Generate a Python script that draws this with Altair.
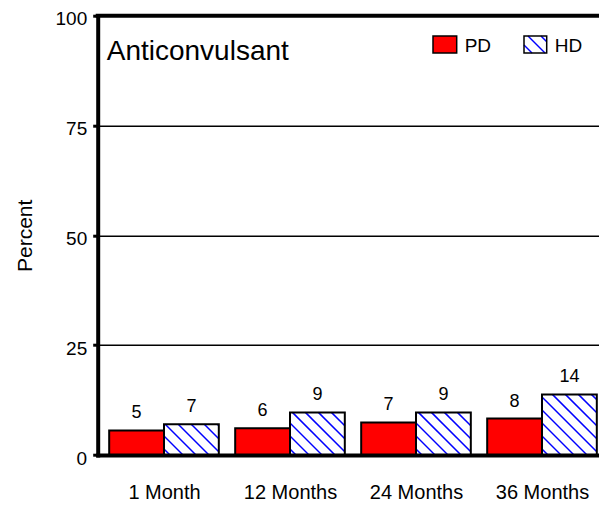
import altair as alt
import pandas as pd

# ---- data ----
months = ["1 Month", "12 Months", "24 Months", "36 Months"]
series = ["PD", "HD"]
pd_values = [5.6, 6.1, 7.4, 8.3]
hd_values = [7.0, 9.7, 9.7, 13.8]
pd_labels = ["5", "6", "7", "8"]
hd_labels = ["7", "9", "9", "14"]
y_ticks = [0, 25, 50, 75, 100]
panel_title = "Anticonvulsant"
y_title = "Percent"

# ---- layout ----
PAD_L, PAD_T = 89.7, 7.7
SVG_W, SVG_H = 591, 496
W = SVG_W - PAD_L
H = 439.3
PAD_B = SVG_H - PAD_T - H
SX = 126.0
XMIN = -66.3 / SX
XMAX = XMIN + W / SX
SY = H / 100.0
HALF = 0.435
FONT = "Liberation Sans"
RED = "#FF0000"
BLUE = "#0000FF"

rows = []
for i, m in enumerate(months):
    rows.append(dict(month=m, series="PD", value=pd_values[i], label=pd_labels[i],
                     x0=i - HALF, x1=i, xc=i - HALF / 2))
    rows.append(dict(month=m, series="HD", value=hd_values[i], label=hd_labels[i],
                     x0=i, x1=i + HALF, xc=i + HALF / 2))
df = pd.DataFrame(rows)


def hatch_segments(bw, hh, step=13.0, phase=6.0):
    segs = []
    d = phase
    while d < bw + hh:
        u1 = max(0.0, d - hh)
        u2 = min(bw, d)
        if u2 > u1:
            segs.append((u1, d - u1, u2, d - u2))
        d += step
    return segs


hrows = []
for _, r in df[df.series == "HD"].iterrows():
    bw = (r.x1 - r.x0) * SX
    hh = r.value * SY
    for (u1, w1, u2, w2) in hatch_segments(bw, hh):
        hrows.append(dict(hx=r.x0 + u1 / SX, hy=w1 / SY, hx2=r.x0 + u2 / SX, hy2=w2 / SY))
hdf = pd.DataFrame(hrows)

x_scale = alt.Scale(domain=[XMIN, XMAX], nice=False, zero=False)
y_scale = alt.Scale(domain=[0, 100], nice=False)

label_expr = "[" + ",".join("'%s'" % m for m in months) + "][round(datum.value)]"
x_axis = alt.Axis(values=[0, 1, 2, 3], labelExpr=label_expr, title=None, ticks=False, tickSize=0,
                  domain=True, domainWidth=4, domainColor="black", domainCap="square", grid=False,
                  labelPadding=43.5, labelBaseline="alphabetic", labelFontSize=20,
                  labelFlush=False, labelColor="black", zindex=1)
y_axis = alt.Axis(values=y_ticks, title=y_title, grid=True, gridColor="black", gridWidth=1.5,
                  gridOpacity=1, domain=True, domainWidth=4, domainColor="black",
                  domainCap="square",
                  tickSize=5, tickWidth=3, tickColor="black", labelPadding=6, labelOffset=3,
                  labelFlush=False,
                  labelFontSize=19, labelColor="black", titleFontSize=21, titleFontWeight="normal",
                  titleColor="black", titleX=-66, titleY=H / 2, titleAngle=270,
                  titleAlign="center", titleBaseline="alphabetic", zindex=1)

base = alt.Chart(df)

pd_bars = base.transform_filter(alt.datum.series == "PD").mark_rect(
    fill=RED, stroke="black", strokeWidth=2
).encode(
    x=alt.X("x0:Q", scale=x_scale, axis=x_axis),
    x2="x1:Q",
    y=alt.Y("value:Q", scale=y_scale, axis=y_axis),
    y2=alt.datum(0),
)

hd_fill = base.transform_filter(alt.datum.series == "HD").mark_rect(
    fill="white", strokeWidth=0
).encode(x="x0:Q", x2="x1:Q", y="value:Q", y2=alt.datum(0))

hatch = alt.Chart(hdf).mark_rule(color=BLUE, strokeWidth=1.5).encode(
    x="hx:Q", x2="hx2:Q", y="hy:Q", y2="hy2:Q"
)

hd_outline = base.transform_filter(alt.datum.series == "HD").mark_rect(
    fill=None, fillOpacity=0, stroke="black", strokeWidth=2
).encode(x="x0:Q", x2="x1:Q", y="value:Q", y2=alt.datum(0))

labels = base.mark_text(fontSize=18, font=FONT, color="black", baseline="alphabetic",
                        align="center", dy=-12).encode(
    x="xc:Q", y="value:Q", text="label:N"
)

one = alt.Data(values=[{"a": 1}])

top_line = alt.Chart(one).mark_rule(color="black", strokeWidth=4, strokeCap="square").encode(
    y=alt.datum(100)
)

title_txt = alt.Chart(one).mark_text(text=panel_title, fontSize=28, font=FONT, color="black",
                                     align="left", baseline="alphabetic").encode(
    x=alt.value(9), y=alt.value(44.3)
)

# hand-drawn legend
lg_y0, lg_y1 = 20.3, 37.3
pd_x0, pd_x1 = 335.3, 359.0
hd_x0, hd_x1 = 426.3, 449.0
leg_pd = alt.Chart(one).mark_rect(fill=RED, stroke="black", strokeWidth=1.5).encode(
    x=alt.value(pd_x0), x2=alt.value(pd_x1), y=alt.value(lg_y0), y2=alt.value(lg_y1))
leg_hd_bg = alt.Chart(one).mark_rect(fill="white", strokeWidth=0).encode(
    x=alt.value(hd_x0), x2=alt.value(hd_x1), y=alt.value(lg_y0), y2=alt.value(lg_y1))
leg_layers = [leg_pd, leg_hd_bg]
for (u1, w1, u2, w2) in hatch_segments(hd_x1 - hd_x0, lg_y1 - lg_y0, step=13.0, phase=8.0):
    leg_layers.append(alt.Chart(one).mark_rule(color=BLUE, strokeWidth=1.5).encode(
        x=alt.value(hd_x0 + u1), x2=alt.value(hd_x0 + u2),
        y=alt.value(lg_y1 - w1), y2=alt.value(lg_y1 - w2)))
leg_layers.append(alt.Chart(one).mark_rect(fill=None, fillOpacity=0, stroke="black",
                                           strokeWidth=1.5).encode(
    x=alt.value(hd_x0), x2=alt.value(hd_x1), y=alt.value(lg_y0), y2=alt.value(lg_y1)))
leg_layers.append(alt.Chart(one).mark_text(text=series[0], fontSize=19, font=FONT, color="black",
                                           align="left", baseline="alphabetic").encode(
    x=alt.value(pd_x1 + 8), y=alt.value(36.6)))
leg_layers.append(alt.Chart(one).mark_text(text=series[1], fontSize=19, font=FONT, color="black",
                                           align="left", baseline="alphabetic").encode(
    x=alt.value(hd_x1 + 8), y=alt.value(36.6)))

chart = alt.layer(pd_bars, hd_fill, hatch, hd_outline, labels, top_line, title_txt,
                  *leg_layers).properties(
    width=W, height=H,
    autosize=alt.AutoSizeParams(type="none"),
    padding={"left": PAD_L, "top": PAD_T, "right": 0, "bottom": PAD_B},
).configure_view(stroke=None).configure(font=FONT)

chart.save("out.html", embed_options={"renderer": "svg", "actions": False})
